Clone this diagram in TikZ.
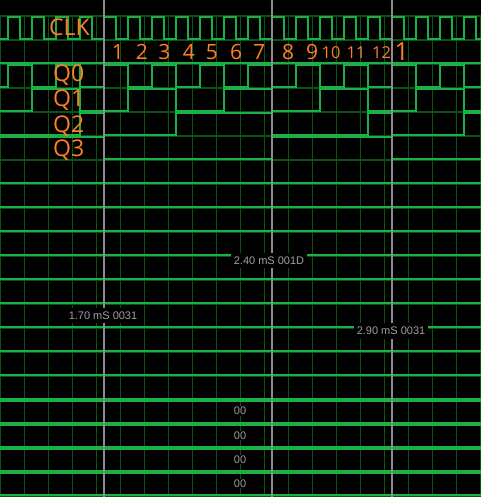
\documentclass[tikz,border=0pt]{standalone}
\usepackage{fontspec}
\setmainfont{Liberation Sans}
\newfontfamily\lafont{Open Sans}
\definecolor{gridc}{RGB}{5,85,20}
\definecolor{trace}{RGB}{28,175,68}
\definecolor{cur}{RGB}{140,140,140}
\definecolor{lab}{RGB}{255,127,39}
\definecolor{measc}{RGB}{160,160,165}
\begin{document}
\begin{tikzpicture}[x=1pt,y=-1pt,
  tr/.style={draw=trace, line width=1.8pt},
  gr/.style={draw=gridc, line width=1.1pt},
  cu/.style={draw=cur, line width=1.8pt},
  sig/.style={text=lab, font=\lafont\fontsize{23}{23}\selectfont, inner sep=0pt, anchor=base west},
  num/.style={text=lab, font=\lafont\fontsize{21}{21}\selectfont, inner sep=0pt, anchor=base},
  numsm/.style={text=lab, font=\lafont\fontsize{16.4}{16.4}\selectfont, inner sep=0pt, anchor=base},
  numbig/.style={text=lab, font=\lafont\fontsize{25}{25}\selectfont, inner sep=0pt, anchor=base},
  meas/.style={fill=black, text=measc, font=\fontsize{11}{11}\selectfont, inner xsep=3pt, inner ysep=4pt},
  zero/.style={fill=black, text=measc, font=\fontsize{11}{11}\selectfont, inner xsep=1pt, inner ysep=1pt},
]
\fill[black] (0,0) rectangle (481,497);
\useasboundingbox (0,0) rectangle (481,497);
\clip (0,0) rectangle (481,497);
% grid
\foreach \i in {0,...,20} \draw[gr] ({24*\i+0.5},16) -- ({24*\i+0.5},497);
\foreach \j in {0,...,20} \draw[gr] (0,{16+24*\j}) -- (481,{16+24*\j});
% CLK
\draw[tr] (0,39.3) \foreach \k in {0,...,19} { -- ({24*\k+7.8},39.3) -- ({24*\k+7.8},17) -- ({24*\k+19.9},17) -- ({24*\k+19.9},39.3) } -- (481,39.3);
% row 1
\draw[tr] (0,63) -- (481,63);
% Q0
\draw[tr] (0,87.3) \foreach \k in {0,2,...,18} { -- ({24*\k+7.8},87.3) -- ({24*\k+7.8},65) -- ({24*\k+31.8},65) -- ({24*\k+31.8},87.3) } -- (481,87.3);
% Q1
\draw[tr] (0,111.3) \foreach \m in {0,...,4} { -- ({96*\m+31.8},111.3) -- ({96*\m+31.8},89) -- ({96*\m+79.8},89) -- ({96*\m+79.8},111.3) } -- (481,111.3);
% Q2
\draw[tr] (0,135.3) -- (79.8,135.3) -- (79.8,113) -- (103.8,113) -- (103.8,135.3) -- (175.8,135.3) -- (175.8,113) -- (271.8,113) -- (271.8,135.3) -- (367.8,135.3) -- (367.8,113) -- (391.8,113) -- (391.8,135.3) -- (463.8,135.3) -- (463.8,113) -- (481,113);
% Q3
\draw[tr] (0,137) -- (103.8,137) -- (103.8,159.3) -- (271.8,159.3) -- (271.8,137) -- (391.8,137) -- (391.8,159.3) -- (481,159.3);
% constant low channels
\foreach \r in {6,...,15} \draw[tr] (0,{16+24*\r+23.3}) -- (481,{16+24*\r+23.3});
% bus rows
\foreach \r in {16,...,19} {
  \draw[tr] (0,{16+24*\r+1}) -- (481,{16+24*\r+1});
  \draw[tr] (0,{16+24*\r+23.3}) -- (481,{16+24*\r+23.3});
}
% cursors
\draw[cu] (104,0) -- (104,497);
\draw[cu] (272,0) -- (272,497);
\draw[cu] (392,0) -- (392,497);
% measurement labels
\node[meas] (m1) at (103,315.5) {1.70 mS 0031};
\node[meas] (m2) at (269,260.5) {2.40 mS 001D};
\node[meas] (m3) at (391,331) {2.90 mS 0031};
\node[zero] (z1) at (240,411) {00};
\node[zero] (z2) at (240,435.5) {00};
\node[zero] (z3) at (240,459.5) {00};
\node[zero] (z4) at (240,483.5) {00};
% channel names
\node[sig] (clk) at (49,36) {CLK};
\node[sig] (q0) at (53,82) {Q0};
\node[sig] (q1) at (53,107) {Q1};
\node[sig] (q2) at (53,132) {Q2};
\node[sig] (q3) at (53,157) {Q3};
% counts
\node[num] (n1) at (118,60) {1};
\node[num] (n2) at (142,60) {2};
\node[num] (n3) at (164.5,60) {3};
\node[num] (n4) at (189,60) {4};
\node[num] (n5) at (212,60) {5};
\node[num] (n6) at (236,60) {6};
\node[num] (n7) at (259,60) {7};
\node[num] (n8) at (288,60) {8};
\node[num] (n9) at (312,60) {9};
\node[numsm] (n10) at (331,58.3) {10};
\node[numsm] (n11) at (356,58.3) {11};
\node[numsm] (n12) at (381.5,58.3) {12};
\node[numbig] (n13) at (401.7,60.7) {1};
\end{tikzpicture}
\end{document}
